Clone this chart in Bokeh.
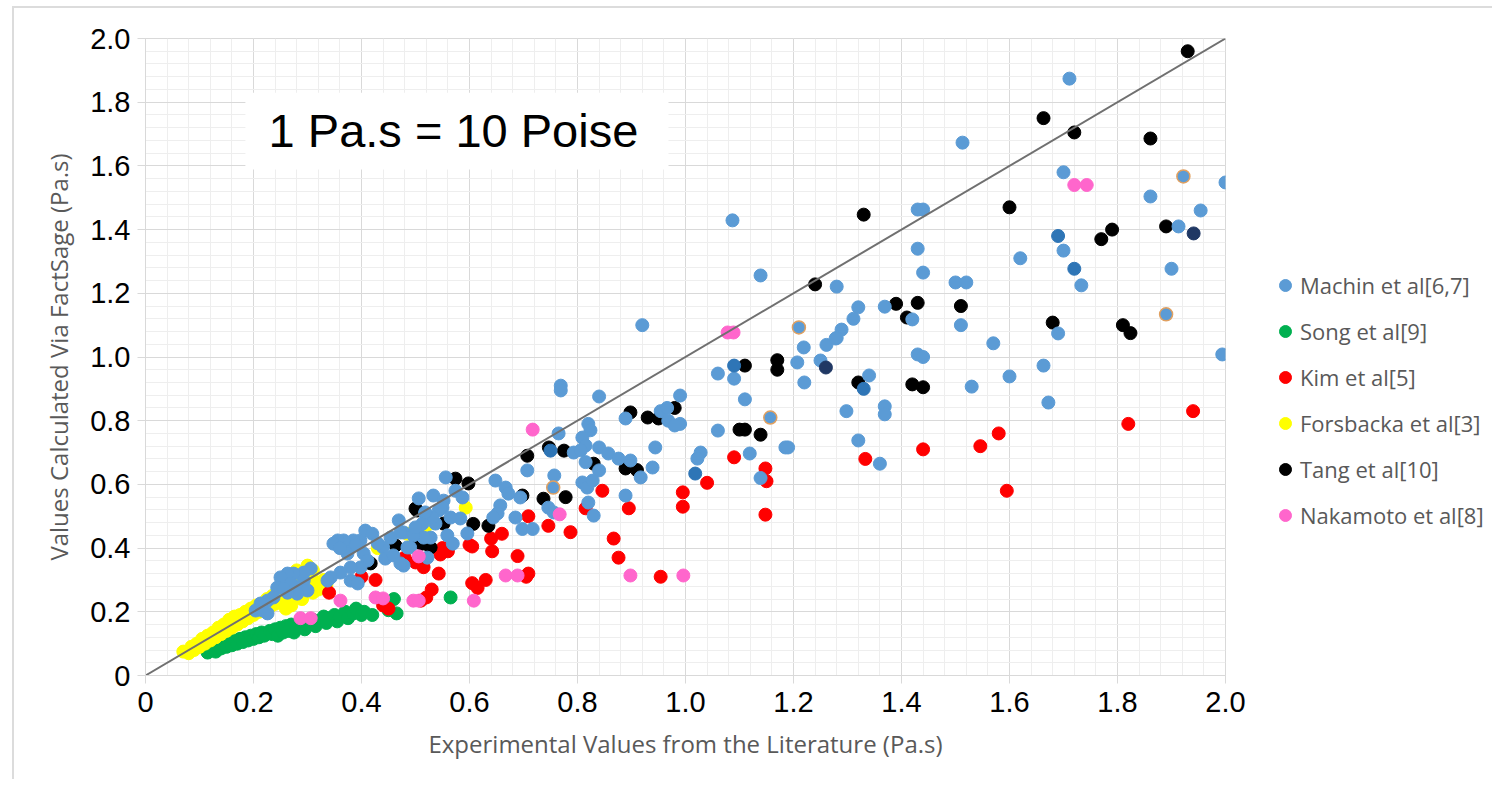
from bokeh.plotting import figure
from bokeh.models import Range1d, FixedTicker, Legend, LegendItem, BoxAnnotation, Label
from bokeh.embed import file_html
from bokeh.resources import INLINE

# ---------------- data ----------------
machin_x = [1.711, 1.513, 1.70, 2.0, 1.861, 1.954, 1.913, 1.70, 1.62, 1.733, 1.90, 1.52, 1.50, 1.51, 1.69,
            1.57, 1.994, 1.663, 1.60, 1.53, 1.672, 1.087, 1.139, 0.92, 1.43, 1.44, 1.43, 1.44, 1.28, 1.32,
            1.311, 1.369, 1.42, 1.289, 1.28, 1.261, 1.219, 1.278, 1.43, 1.44, 1.09, 1.06, 1.207, 1.25, 1.22,
            1.34, 1.369, 1.369, 0.84, 0.99, 1.11, 1.298, 1.32, 1.36, 1.06, 1.119, 1.139, 1.185, 1.19, 1.028,
            1.022, 0.99, 0.769, 0.769, 0.954, 0.966, 0.968, 0.98, 0.944, 0.889, 0.82, 0.824, 0.809, 0.815,
            0.765, 0.793, 0.806, 0.815, 0.84, 0.857, 0.876, 0.898, 0.939, 0.917, 0.84, 0.707, 0.757, 0.809,
            0.818, 0.828, 0.82, 0.83, 0.889, 0.746, 0.756, 0.648, 0.667, 0.672, 0.657, 0.652, 0.644, 0.685,
            0.698, 0.717, 0.694, 0.556, 0.574, 0.587, 0.583, 0.596, 0.533, 0.506, 0.552, 0.543, 0.55, 0.518,
            0.565, 0.537, 0.559, 0.569, 0.528, 0.504, 0.478, 0.49, 0.478, 0.522, 0.546, 0.531, 0.513, 0.515,
            0.496, 0.50, 0.469, 0.472, 0.485, 0.454, 0.44, 0.444, 0.459, 0.472, 0.407, 0.398, 0.385, 0.38,
            0.367, 0.356, 0.348, 0.404, 0.411, 0.398, 0.38, 0.361, 0.343, 0.337, 0.38, 0.393, 0.306, 0.293,
            0.274, 0.263, 0.25, 0.244, 0.293, 0.283, 0.269, 0.30, 0.281, 0.263, 0.226, 0.213, 0.204, 0.217,
            0.226, 0.237, 0.256, 0.518, 0.374, 0.42, 0.43, 0.39, 0.36]
machin_y = [1.874, 1.673, 1.58, 1.548, 1.504, 1.46, 1.41, 1.334, 1.31, 1.225, 1.277, 1.234, 1.234, 1.10, 1.074,
            1.043, 1.008, 0.973, 0.939, 0.907, 0.857, 1.429, 1.256, 1.10, 1.463, 1.463, 1.34, 1.265, 1.221, 1.156,
            1.12, 1.158, 1.118, 1.086, 1.06, 1.038, 1.03, 1.058, 1.008, 1.0, 0.932, 0.948, 0.983, 0.989, 0.92,
            0.942, 0.845, 0.82, 0.876, 0.879, 0.867, 0.83, 0.738, 0.665, 0.769, 0.697, 0.62, 0.716, 0.716, 0.70,
            0.681, 0.79, 0.91, 0.895, 0.83, 0.84, 0.80, 0.785, 0.716, 0.807, 0.79, 0.77, 0.747, 0.722,
            0.76, 0.70, 0.707, 0.67, 0.716, 0.697, 0.681, 0.675, 0.653, 0.622, 0.644, 0.644, 0.628, 0.606,
            0.59, 0.612, 0.543, 0.502, 0.565, 0.527, 0.512, 0.612, 0.59, 0.571, 0.534, 0.509, 0.496, 0.496,
            0.46, 0.46, 0.559, 0.622, 0.58, 0.559, 0.493, 0.446, 0.565, 0.556, 0.549, 0.518, 0.527, 0.509,
            0.496, 0.477, 0.44, 0.414, 0.433, 0.462, 0.449, 0.402, 0.345, 0.37, 0.524, 0.496, 0.477, 0.433,
            0.44, 0.465, 0.487, 0.449, 0.402, 0.433, 0.402, 0.367, 0.377, 0.352, 0.455, 0.424, 0.424, 0.402,
            0.424, 0.424, 0.414, 0.383, 0.361, 0.339, 0.339, 0.323, 0.308, 0.298, 0.298, 0.289, 0.336, 0.323,
            0.32, 0.32, 0.308, 0.276, 0.298, 0.276, 0.289, 0.267, 0.257, 0.26, 0.235, 0.226, 0.204, 0.204,
            0.195, 0.245, 0.273, 0.512, 0.383, 0.445, 0.415, 0.41, 0.40]

machin_dark_x = [1.69, 1.72, 1.09, 1.33, 1.018, 0.75]
machin_dark_y = [1.38, 1.277, 0.973, 0.90, 0.634, 0.706]
machin_navy_x = [1.941, 1.26]
machin_navy_y = [1.388, 0.967]
machin_ring_x = [1.922, 1.89, 1.21, 1.157, 0.755]
machin_ring_y = [1.567, 1.134, 1.093, 0.81, 0.59]

song_x = [0.115, 0.125, 0.13, 0.135, 0.14, 0.145, 0.15, 0.155, 0.16, 0.165, 0.17, 0.175, 0.18, 0.185, 0.19,
          0.195, 0.20, 0.205, 0.21, 0.215, 0.22, 0.23, 0.235, 0.24, 0.245, 0.25, 0.255, 0.26, 0.265, 0.27,
          0.275, 0.28, 0.29, 0.295, 0.30, 0.31, 0.315, 0.32, 0.33, 0.335, 0.34, 0.35, 0.355, 0.36, 0.37,
          0.375, 0.385, 0.39, 0.40, 0.405, 0.42, 0.45, 0.46, 0.465, 0.565]
song_y = [0.072, 0.085, 0.075, 0.095, 0.085, 0.10, 0.09, 0.105, 0.095, 0.11, 0.10, 0.115, 0.105, 0.12, 0.11,
          0.125, 0.115, 0.13, 0.12, 0.135, 0.125, 0.14, 0.13, 0.145, 0.125, 0.15, 0.135, 0.155, 0.14, 0.16,
          0.135, 0.15, 0.165, 0.145, 0.16, 0.175, 0.155, 0.17, 0.185, 0.165, 0.18, 0.19, 0.17, 0.185, 0.20,
          0.18, 0.195, 0.21, 0.19, 0.20, 0.19, 0.205, 0.24, 0.195, 0.245]

kim_x = [1.94, 1.82, 1.58, 1.546, 1.595, 1.44, 1.333, 1.148, 1.15, 1.148, 1.09, 1.04, 0.995, 0.995, 0.846,
         0.815, 0.895, 0.787, 0.867, 0.876, 0.954, 0.746, 0.709, 0.709, 0.705, 0.689, 0.642, 0.66, 0.64,
         0.60, 0.546, 0.55, 0.543, 0.63, 0.605, 0.615, 0.52, 0.53, 0.50, 0.56, 0.515, 0.48, 0.426, 0.40,
         0.44, 0.45, 0.51, 0.34, 0.605]
kim_y = [0.83, 0.79, 0.76, 0.72, 0.58, 0.71, 0.68, 0.65, 0.61, 0.505, 0.685, 0.605, 0.575, 0.53, 0.58,
         0.525, 0.525, 0.45, 0.43, 0.37, 0.31, 0.47, 0.50, 0.32, 0.31, 0.375, 0.39, 0.445, 0.43,
         0.41, 0.38, 0.40, 0.32, 0.30, 0.29, 0.275, 0.245, 0.27, 0.355, 0.39, 0.34, 0.37, 0.30, 0.31,
         0.22, 0.21, 0.235, 0.26, 0.405]

forsbacka_x = [0.07, 0.08, 0.085, 0.09, 0.095, 0.10, 0.105, 0.11, 0.115, 0.12, 0.125, 0.13, 0.135, 0.14, 0.145,
               0.15, 0.155, 0.16, 0.165, 0.17, 0.175, 0.18, 0.185, 0.19, 0.195, 0.20, 0.205, 0.21, 0.215, 0.22,
               0.225, 0.23, 0.235, 0.24, 0.245, 0.25, 0.255, 0.26, 0.265, 0.27, 0.275, 0.28, 0.285, 0.29,
               0.295, 0.30, 0.31, 0.315, 0.32, 0.33, 0.43, 0.485, 0.518, 0.593,
               0.26, 0.27, 0.29, 0.31, 0.32, 0.33, 0.31, 0.28, 0.30, 0.335]
forsbacka_y = [0.075, 0.07, 0.09, 0.08, 0.10, 0.09, 0.115, 0.10, 0.125, 0.11, 0.135, 0.12, 0.15, 0.13, 0.16,
               0.14, 0.175, 0.15, 0.185, 0.16, 0.19, 0.17, 0.20, 0.18, 0.21, 0.19, 0.22, 0.20, 0.225, 0.205,
               0.24, 0.215, 0.25, 0.225, 0.26, 0.235, 0.27, 0.245, 0.28, 0.25, 0.295, 0.26, 0.31, 0.27,
               0.33, 0.28, 0.30, 0.27, 0.29, 0.28, 0.40, 0.445, 0.465, 0.527,
               0.21, 0.22, 0.24, 0.26, 0.27, 0.30, 0.33, 0.33, 0.345, 0.285]

tang_x = [1.93, 1.663, 1.72, 1.861, 1.60, 1.33, 1.79, 1.77, 1.89, 1.24, 1.39, 1.43, 1.51, 1.41, 1.68, 1.81,
          1.824, 1.17, 1.17, 1.11, 1.32, 1.42, 1.44, 1.10, 1.11, 1.139, 0.898, 0.93, 0.95, 0.98, 0.889,
          0.91, 0.83, 0.775, 0.747, 0.707, 0.778, 0.737, 0.698, 0.635, 0.607, 0.598, 0.574, 0.503, 0.512,
          0.50, 0.552, 0.504, 0.417, 0.463, 0.509, 0.528]
tang_y = [1.96, 1.75, 1.705, 1.686, 1.47, 1.447, 1.40, 1.37, 1.41, 1.228, 1.167, 1.17, 1.16, 1.124, 1.108, 1.10,
          1.075, 0.99, 0.96, 0.973, 0.92, 0.914, 0.905, 0.772, 0.772, 0.756, 0.826, 0.81, 0.807, 0.84, 0.65,
          0.645, 0.665, 0.706, 0.716, 0.69, 0.56, 0.555, 0.565, 0.47, 0.476, 0.603, 0.618, 0.518, 0.414,
          0.524, 0.477, 0.418, 0.352, 0.408, 0.424, 0.402]

nakamoto_x = [1.72, 1.743, 1.078, 1.089, 0.717, 0.767, 0.898, 0.996, 0.667, 0.689, 0.608, 0.496, 0.506,
              0.361, 0.426, 0.44, 0.287, 0.306, 0.506]
nakamoto_y = [1.54, 1.54, 1.077, 1.077, 0.772, 0.506, 0.314, 0.314, 0.314, 0.314, 0.235, 0.235, 0.235,
              0.235, 0.245, 0.242, 0.18, 0.18, 0.374]

parity_x = [0.0, 2.0]
parity_y = [0.0, 2.0]

tick_values = [0, 0.2, 0.4, 0.6, 0.8, 1.0, 1.2, 1.4, 1.6, 1.8, 2.0]
tick_labels = ["0", "0.2", "0.4", "0.6", "0.8", "1.0", "1.2", "1.4", "1.6", "1.8", "2.0"]

series_names = ["Machin et al[6,7]", "Song et al[9]", "Kim et al[5]",
                "Forsbacka et al[3]", "Tang et al[10]", "Nakamoto et al[8]"]

# ---------------- figure ----------------
p = figure(frame_width=1080, frame_height=637, output_backend="svg", toolbar_location=None,
           x_range=Range1d(0, 2), y_range=Range1d(0, 2),
           min_border_left=131, min_border_top=30, min_border_right=259, min_border_bottom=104)
p.styles = {"margin-left": "12px", "margin-top": "6px",
            "border-left": "2px solid #DCDCDC", "border-top": "2px solid #DCDCDC"}
p.outline_line_color = "#D9D9D9"
p.background_fill_color = "white"
p.border_fill_color = "white"

minor = [i * 0.04 for i in range(51)]
for ax in (p.xaxis[0], p.yaxis[0]):
    ax.ticker = FixedTicker(ticks=tick_values, minor_ticks=minor)
    ax.major_label_overrides = dict(zip(tick_values, tick_labels))
    ax.major_label_text_font = "Liberation Sans"
    ax.major_label_text_font_size = "29px"
    ax.major_label_text_color = "black"
    ax.axis_line_color = "#D9D9D9"
    ax.major_tick_line_color = "#D9D9D9"
    ax.major_tick_out = 8
    ax.major_tick_in = 0
    ax.minor_tick_line_color = None
    ax.axis_label_text_font = "Open Sans"
    ax.axis_label_text_font_size = "24px"
    ax.axis_label_text_font_style = "normal"
    ax.axis_label_text_color = "#595959"

p.xaxis[0].axis_label = "Experimental Values from the Literature (Pa.s)"
p.yaxis[0].axis_label = "Values Calculated Via FactSage (Pa.s)"
p.xaxis[0].major_label_standoff = 8
p.xaxis[0].axis_label_standoff = 12
p.yaxis[0].major_label_standoff = 7
p.yaxis[0].axis_label_standoff = 12

for g in (p.xgrid[0], p.ygrid[0]):
    g.ticker = FixedTicker(ticks=tick_values, minor_ticks=minor)
    g.grid_line_color = "#D9D9D9"
    g.grid_line_width = 1
    g.minor_grid_line_color = "#EEEEEE"
    g.minor_grid_line_width = 1

S = 13
r_song = p.scatter(song_x, song_y, size=S, fill_color="#00B050", line_color="#00B050")
r_fors = p.scatter(forsbacka_x, forsbacka_y, size=S, fill_color="#FFFF00", line_color="#FFFF00")
r_kim = p.scatter(kim_x, kim_y, size=S, fill_color="#FF0000", line_color="#FF0000")
r_tang = p.scatter(tang_x, tang_y, size=S, fill_color="#000000", line_color="#000000")
r_machin = p.scatter(machin_x, machin_y, size=S, fill_color="#5B9BD5", line_color="#5B9BD5")
p.scatter(machin_dark_x, machin_dark_y, size=S, fill_color="#2E75B6", line_color="#2E75B6")
p.scatter(machin_navy_x, machin_navy_y, size=S, fill_color="#203864", line_color="#203864")
p.scatter(machin_ring_x, machin_ring_y, size=S, fill_color="#5B9BD5", line_color="#E0A060", line_width=1.5)
r_naka = p.scatter(nakamoto_x, nakamoto_y, size=S, fill_color="#FF66CC", line_color="#FF66CC")

p.line(parity_x, parity_y, line_color="#707070", line_width=2)

box = BoxAnnotation(left=0.185, right=0.9685, bottom=1.589, top=1.83,
                    fill_color="white", fill_alpha=1.0, line_color=None)
p.add_layout(box)
p.add_layout(Label(x=0.228, y=1.711, text="1 Pa.s = 10 Poise", text_font="Liberation Sans",
                   text_font_size="47px", text_color="black", text_baseline="middle"))

renderers = [r_machin, r_song, r_kim, r_fors, r_tang, r_naka]
legend = Legend(items=[LegendItem(label=n, renderers=[r]) for n, r in zip(series_names, renderers)],
                location=(45, 145), orientation="vertical",
                glyph_width=30, glyph_height=30, label_height=30, label_standoff=0, spacing=16,
                padding=0, margin=0, border_line_color=None, background_fill_alpha=0,
                label_text_font="Open Sans", label_text_font_size="22px", label_text_color="#595959")
p.add_layout(legend, "right")

open("out.html", "w").write(file_html(p, INLINE))
